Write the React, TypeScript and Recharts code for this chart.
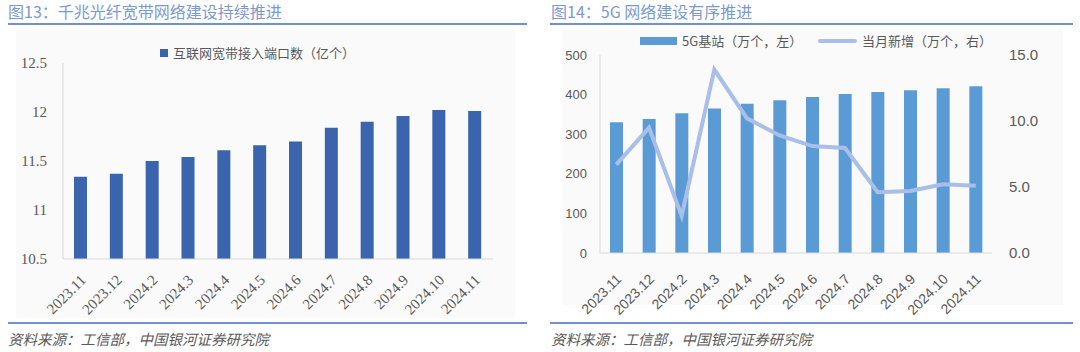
import React from 'react';
import { BarChart, ComposedChart, Bar, Line, XAxis, YAxis } from 'recharts';

const months = ['2023.11', '2023.12', '2024.2', '2024.3', '2024.4', '2024.5', '2024.6', '2024.7', '2024.8', '2024.9', '2024.10', '2024.11'];
const broadbandPorts = [11.34, 11.37, 11.50, 11.54, 11.61, 11.66, 11.70, 11.84, 11.90, 11.96, 12.02, 12.01];
const stations5G = [330, 338.6, 353, 365, 377, 385.5, 394, 401.5, 406.5, 411, 416, 421];
const monthlyAdds = [6.7, 9.5, 2.8, 13.9, 10.2, 8.9, 8.1, 7.95, 4.6, 4.7, 5.2, 5.1];

const leftTicks = [10.5, 11, 11.5, 12, 12.5];
const rightLeftTicks = [0, 100, 200, 300, 400, 500];
const rightRightTicks = [0, 5, 10, 15];

const leftTitle = '图13：千兆光纤宽带网络建设持续推进';
const rightTitle = '图14：5G 网络建设有序推进';
const leftLegend = '互联网宽带接入端口数（亿个）';
const barLegend = '5G基站（万个，左）';
const lineLegend = '当月新增（万个，右）';
const sourceText = '资料来源：工信部，中国银河证券研究院';

const leftData = months.map((m, i) => ({ m, v: broadbandPorts[i] }));
const rightData = months.map((m, i) => ({ m, s: stations5G[i], n: monthlyAdds[i] }));

const SERIF = '"Liberation Serif", "Noto Sans CJK SC", serif';
const SANS = '"Liberation Sans", "Noto Sans CJK SC", sans-serif';
const CJK = '"Noto Sans CJK SC", sans-serif';

const titleColor = '#7b99cf';
const lineColor = '#7190cd';
const textGray = '#595959';

const LeftTick = (props: any) => {
  const { x, y, payload } = props;
  const ax = x + 6;
  const ay = y + 14;
  return (
    <text x={ax} y={ay} textAnchor="end" transform={`rotate(-45, ${ax}, ${ay})`} fill={textGray} fontSize={15} fontFamily={SERIF}>
      {payload.value}
    </text>
  );
};

const RightTick = (props: any) => {
  const { x, y, payload } = props;
  const ax = x + 6;
  const ay = y + 19;
  return (
    <text x={ax} y={ay} textAnchor="end" transform={`rotate(-45, ${ax}, ${ay})`} fill={textGray} fontSize={14} fontFamily={SANS}>
      {payload.value}
    </text>
  );
};

export default function App() {
  return (
    <div style={{ position: 'absolute', left: 0, top: 0, width: 1080, height: 352, background: '#fff', overflow: 'hidden' }}>
      {/* Titles */}
      <div style={{ position: 'absolute', left: 8, top: 0, fontFamily: CJK, fontSize: 16, color: titleColor, lineHeight: '22px', whiteSpace: 'nowrap' }}>{leftTitle}</div>
      <div style={{ position: 'absolute', left: 551, top: 0, fontFamily: CJK, fontSize: 16, color: titleColor, lineHeight: '22px', whiteSpace: 'nowrap' }}>{rightTitle}</div>
      <div style={{ position: 'absolute', left: 8, top: 23, width: 519, height: 2, background: lineColor }} />
      <div style={{ position: 'absolute', left: 550, top: 23, width: 523, height: 2, background: lineColor }} />

      {/* faint chart backgrounds */}
      <div style={{ position: 'absolute', left: 16, top: 30, width: 499, height: 288, background: '#fafafa' }} />
      <div style={{ position: 'absolute', left: 562, top: 30, width: 501, height: 275, background: '#fafafa' }} />

      {/* Left chart */}
      <div style={{ position: 'absolute', left: 16, top: 30 }}>
        <BarChart width={500} height={290} data={leftData} margin={{ top: 33, right: 23, bottom: 1, left: 7 }}>
          <XAxis dataKey="m" axisLine={{ stroke: '#d9d9d9' }} tickLine={false} interval={0} height={60} tick={<LeftTick />} />
          <YAxis domain={[10.5, 12.5]} ticks={leftTicks} axisLine={{ stroke: '#d9d9d9' }} tickLine={false} width={40} tickMargin={10}
            tick={{ fill: textGray, fontSize: 15, fontFamily: SERIF }} />
          <Bar dataKey="v" fill="#3a64ae" barSize={13} isAnimationActive={false} />
        </BarChart>
      </div>
      {/* Left legend */}
      <div style={{ position: 'absolute', left: 160, top: 49, width: 8, height: 8, background: '#3a64ae' }} />
      <div style={{ position: 'absolute', left: 173, top: 44, fontFamily: CJK, fontSize: 13, color: textGray, lineHeight: '18px', whiteSpace: 'nowrap' }}>{leftLegend}</div>

      {/* Right chart */}
      <div style={{ position: 'absolute', left: 560, top: 30 }}>
        <ComposedChart width={505} height={290} data={rightData} margin={{ top: 25, right: 0, bottom: 1, left: 0 }}>
          <XAxis dataKey="m" axisLine={{ stroke: '#d9d9d9' }} tickLine={false} interval={0} height={66} tick={<RightTick />} />
          <YAxis yAxisId="l" domain={[0, 500]} ticks={rightLeftTicks} axisLine={{ stroke: '#d9d9d9' }} tickLine={false} width={40} tickMargin={7}
            tick={{ fill: textGray, fontSize: 13, fontFamily: SANS }} />
          <YAxis yAxisId="r" orientation="right" domain={[0, 15]} ticks={rightRightTicks} axisLine={false} tickLine={false} width={73} tickMargin={11}
            tickFormatter={(v: number) => v.toFixed(1)} tick={{ fill: textGray, fontSize: 15, fontFamily: SANS, textAnchor: 'start' }} />
          <Bar yAxisId="l" dataKey="s" fill="#5b9bd5" barSize={13} isAnimationActive={false} />
          <Line yAxisId="r" dataKey="n" stroke="#a9bee8" strokeWidth={4} dot={false} isAnimationActive={false} />
        </ComposedChart>
      </div>
      {/* Right legend */}
      <div style={{ position: 'absolute', left: 640, top: 37, width: 37, height: 8, background: '#5b9bd5' }} />
      <div style={{ position: 'absolute', left: 682, top: 32, fontFamily: CJK, fontSize: 13, color: textGray, lineHeight: '18px', whiteSpace: 'nowrap' }}>{barLegend}</div>
      <div style={{ position: 'absolute', left: 818, top: 39, width: 39, height: 4, borderRadius: 2, background: '#a9bee8' }} />
      <div style={{ position: 'absolute', left: 862, top: 32, fontFamily: CJK, fontSize: 13, color: textGray, lineHeight: '18px', whiteSpace: 'nowrap' }}>{lineLegend}</div>

      {/* Bottom rules and sources */}
      <div style={{ position: 'absolute', left: 8, top: 322, width: 519, height: 2, background: lineColor }} />
      <div style={{ position: 'absolute', left: 550, top: 322, width: 523, height: 2, background: lineColor }} />
      <div style={{ position: 'absolute', left: 8, top: 329, fontFamily: CJK, fontSize: 14.5, fontStyle: 'italic', color: textGray, lineHeight: '20px', whiteSpace: 'nowrap' }}>{sourceText}</div>
      <div style={{ position: 'absolute', left: 551, top: 329, fontFamily: CJK, fontSize: 14.5, fontStyle: 'italic', color: textGray, lineHeight: '20px', whiteSpace: 'nowrap' }}>{sourceText}</div>
    </div>
  );
}
